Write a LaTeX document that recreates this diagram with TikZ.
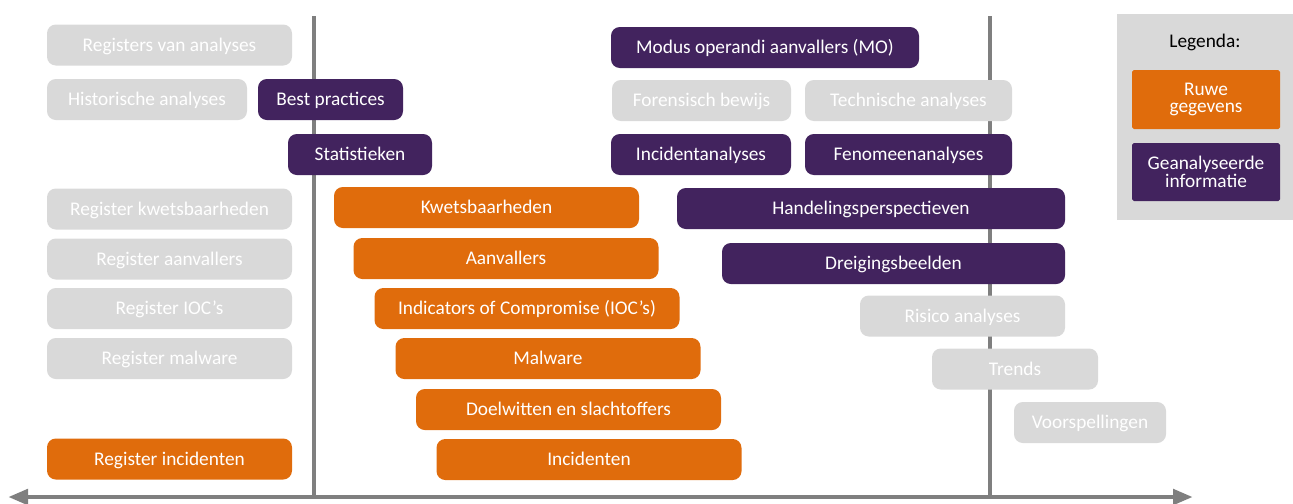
\documentclass[tikz,border=0pt]{standalone}
\usepackage{fontspec}
\setmainfont{Carlito}
\usepackage{xcolor}
\usetikzlibrary{arrows.meta,positioning}

\definecolor{rawor}{HTML}{E06C0C}
\definecolor{anapurple}{HTML}{42235E}
\definecolor{boxgray}{HTML}{D9D9D9}
\definecolor{axisgray}{HTML}{7F7F7F}

\begin{document}
\begin{tikzpicture}[
    box/.style={rounded corners=5pt, minimum height=0.82cm, align=center, font=\fontsize{11}{12}\selectfont, text=white, inner sep=2pt, text height=7pt, text depth=0pt},
    graybox/.style={box, fill=boxgray},
    rawbox/.style={box, fill=rawor},
    anabox/.style={box, fill=anapurple},
    legbox/.style={rounded corners=1pt, minimum width=2.96cm, text height={}, text depth={}},
    axis/.style={draw=axisgray, line width=2.4pt}
]
    \useasboundingbox (0,0) rectangle (25.86,-10.06);

    % axes
    \coordinate (vl-top) at (6.28,-0.32);
    \coordinate (vl-bot) at (6.28,-9.94);
    \coordinate (vr-top) at (19.8,-0.32);
    \coordinate (vr-bot) at (19.8,-9.94);
    \coordinate (ax-left) at (0.16,-9.94);
    \coordinate (ax-right) at (23.86,-9.94);
    \draw[axis] (vl-top) -- (vl-bot);
    \draw[axis] (vr-top) -- (vr-bot);
    \draw[axis, line width=2.8pt, {Triangle[length=0.4cm, width=0.3cm]}-{Triangle[length=0.4cm, width=0.3cm]}] (ax-left) -- (ax-right);

    % registers
    \node[graybox, minimum width=4.9cm] (regana) at (3.39,-0.9) {Registers van analyses};
    \node[graybox, minimum width=4.0cm] (histana) at (2.94,-1.99) {Historische analyses};
    \node[anabox, minimum width=2.9cm] (best) at (6.61,-1.99) {Best practices};
    \node[anabox, minimum width=2.88cm] (stat) at (7.2,-3.09) {Statistieken};
    \node[graybox, minimum width=4.9cm] (regkwets) at (3.39,-4.18) {Register kwetsbaarheden};
    \node[graybox, minimum width=4.9cm] (regaanv) at (3.39,-5.18) {Register aanvallers};
    \node[graybox, minimum width=4.9cm] (regioc) at (3.39,-6.17) {Register IOC’s};
    \node[graybox, minimum width=4.9cm] (regmal) at (3.39,-7.17) {Register malware};
    \node[rawbox, minimum width=4.9cm] (reginc) at (3.39,-9.18) {Register incidenten};

    % raw data
    \node[rawbox, minimum width=6.1cm] (kwets) at (9.73,-4.15) {Kwetsbaarheden};
    \node[rawbox, minimum width=6.1cm] (aanv) at (10.12,-5.17) {Aanvallers};
    \node[rawbox, minimum width=6.1cm] (ioc) at (10.54,-6.17) {Indicators of Compromise (IOC’s)};
    \node[rawbox, minimum width=6.1cm] (mal) at (10.96,-7.17) {Malware};
    \node[rawbox, minimum width=6.1cm] (doel) at (11.37,-8.19) {Doelwitten en slachtoffers};
    \node[rawbox, minimum width=6.1cm] (inc) at (11.78,-9.19) {Incidenten};

    % analyses
    \node[anabox, minimum width=6.16cm] (mo) at (15.3,-0.95) {Modus operandi aanvallers (MO)};
    \node[graybox, minimum width=3.58cm] (foren) at (14.03,-2.01) {Forensisch bewijs};
    \node[graybox, minimum width=4.14cm] (techana) at (18.17,-2.01) {Technische analyses};
    \node[anabox, minimum width=3.6cm] (incana) at (14.02,-3.09) {Incidentanalyses};
    \node[anabox, minimum width=4.14cm] (fenana) at (18.17,-3.09) {Fenomeenanalyses};
    \node[anabox, minimum width=7.76cm] (handel) at (17.42,-4.17) {Handelingsperspectieven};
    \node[anabox, minimum width=6.86cm] (dreig) at (17.87,-5.27) {Dreigingsbeelden};
    \node[graybox, minimum width=4.1cm] (risico) at (19.25,-6.32) {Risico analyses};
    \node[graybox, minimum width=3.32cm] (trends) at (20.3,-7.38) {Trends};
    \node[graybox, minimum width=3.04cm] (voorsp) at (21.8,-8.45) {Voorspellingen};

    % legend
    \node[fill=boxgray, minimum width=3.52cm, minimum height=4.12cm, anchor=north west] (legend) at (22.34,-0.28) {};
    \node[font=\fontsize{11}{12}\selectfont] (legtitle) at (24.1,-0.84) {Legenda:};
    \node[rawbox, legbox, minimum height=1.18cm] (legraw) at (24.12,-1.99) {Ruwe\\[-2pt]gegevens};
    \node[anabox, legbox, minimum height=1.16cm] (legana) at (24.12,-3.44) {Geanalyseerde\\[-2pt]informatie};
\end{tikzpicture}
\end{document}
